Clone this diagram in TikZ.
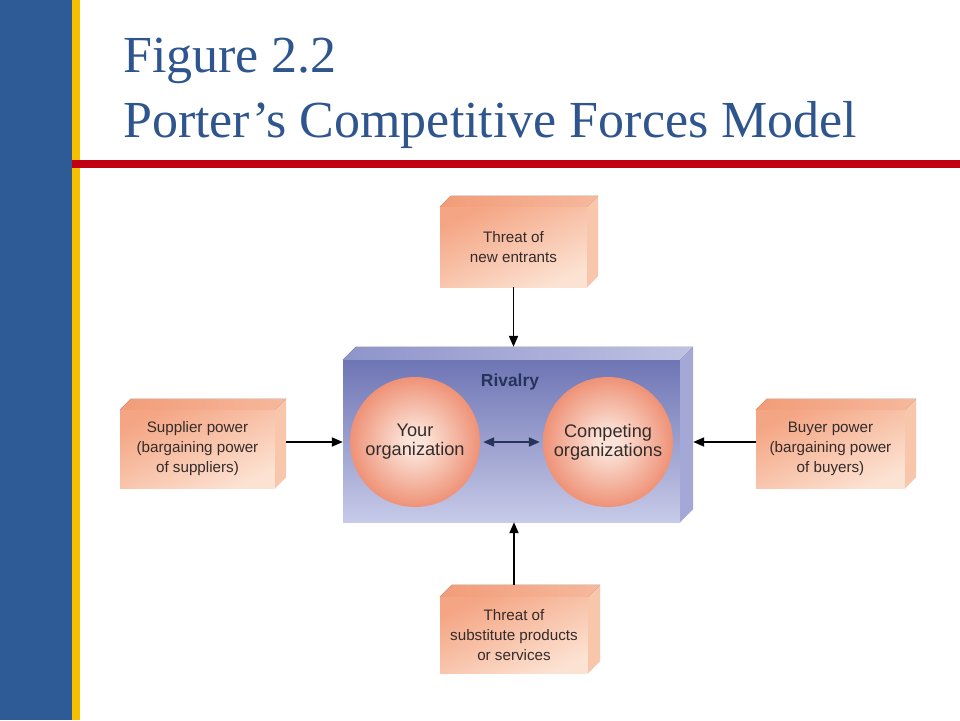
\documentclass[tikz,border=0pt]{standalone}
\usepackage{fontspec}
\setmainfont{Liberation Serif}
\newfontfamily\boxfont{Liberation Sans}
\usepackage{tikz}
\usetikzlibrary{
  arrows.meta,
  positioning,
  calc,
}
\definecolor{barblue}{HTML}{2E5A96}
\definecolor{headblue}{HTML}{2F558F}
\definecolor{baryellow}{HTML}{F6C000}
\definecolor{rulered}{HTML}{C00012}
\definecolor{ink}{HTML}{352B2A}
\definecolor{navy}{HTML}{26345A}
\definecolor{peachdark}{HTML}{F4A583}
\definecolor{peachlight}{HTML}{FCE2D2}
\definecolor{peachtop}{HTML}{F29C78}
\definecolor{peachside}{HTML}{F8C6AB}
\definecolor{slabdark}{HTML}{6E75B4}
\definecolor{slablight}{HTML}{C7CAE8}
\definecolor{slabtop}{HTML}{8F94CA}
\definecolor{slabside}{HTML}{A3A8D6}
\definecolor{orbcore}{HTML}{FBE3D8}
\definecolor{orbmid}{HTML}{EE8E72}
\definecolor{orbrim}{HTML}{DB5536}
\pgfdeclareradialshading{orb}{\pgfpoint{0bp}{0bp}}{%
  color(0bp)=(orbcore); color(4bp)=(orbcore); color(26bp)=(orbmid); color(50bp)=(orbrim)}
\tikzset{
  heading/.style={anchor=base west, inner sep=0pt, text=headblue,
    font=\fontsize{52}{65}\selectfont},
  brick/.style={
    top color=peachdark,
    bottom color=peachlight,
    shading angle=25,
    inner sep=0pt,
    align=center,
    text=ink,
    font=\boxfont\fontsize{15.2}{20}\selectfont,
  },
  slab/.style={
    top color=slabdark,
    bottom color=slablight,
    inner sep=0pt,
    minimum width=337,
    minimum height=162,
  },
  tag/.style={font=\boxfont\bfseries\fontsize{17.4}{20}\selectfont, text=navy},
  orb/.style={
    circle,
    shading=orb,
    minimum size=130,
    inner sep=0pt,
    align=center,
    text=ink,
    font=\boxfont\fontsize{18.2}{18.8}\selectfont,
  },
  force/.style={draw=black, line width=1.9pt, -{Triangle[length=11pt,width=9pt]}},
  duel/.style={draw=navy, line width=2pt, {Triangle[length=11pt,width=9pt]}-{Triangle[length=11pt,width=9pt]},
    shorten <=3pt, shorten >=3pt},
}

\begin{document}
\begin{tikzpicture}[x=1pt,y=-1pt]
  \useasboundingbox (0,0) rectangle (960,720);
  \fill[white] (0,0) rectangle (960,720);

  % slide frame
  \fill[barblue] (0,0) rectangle (72,720);
  \fill[baryellow] (72,0) rectangle (80,720);
  \fill[rulered] (72,160) rectangle (960,168);
  \node[heading] (fig) at (123,72) {Figure 2.2};
  \node[heading] (title) at (123,137) {Porter’s Competitive Forces Model};

  % rivalry slab
  \node[slab] (rivalry) at (511.5,441) {};
  \fill[left color=slabtop, right color=slabside!70]
    (rivalry.north west) -- ++(13,-13) -- ($(rivalry.north east)+(13,-13)$) -- (rivalry.north east) -- cycle;
  \fill[slabside]
    (rivalry.north east) -- ++(13,-13) -- ($(rivalry.south east)+(13,-13)$) -- (rivalry.south east) -- cycle;
  \node[tag] (rivaltag) at (510,382) {Rivalry};
  \node[orb] (you) at (415,442) {Your\\organization};
  \node[orb] (rivals) at (608,442) {Competing\\organizations};
  \draw[duel] (you) -- (rivals);

  % the four forces
  \node[brick, minimum width=147, minimum height=80] (entrants) at (513.5,247) {Threat of\\new entrants};
  \node[brick, minimum width=155, minimum height=78] (supplier) at (197.5,449) {Supplier power\\(bargaining power\\of suppliers)};
  \node[brick, minimum width=149, minimum height=78] (buyer) at (830.5,449) {Buyer power\\(bargaining power\\of buyers)};
  \node[brick, minimum width=148, minimum height=76] (substitutes) at (514,635) {Threat of\\substitute products\\or services};
  \foreach \n/\d in {entrants/11, supplier/11, buyer/11, substitutes/12} {
    \fill[left color=peachtop, right color=peachtop!60!peachlight]
      (\n.north west) -- ++(\d,-\d) -- ($(\n.north east)+(\d,-\d)$) -- (\n.north east) -- cycle;
    \fill[peachside]
      (\n.north east) -- ++(\d,-\d) -- ($(\n.south east)+(\d,-\d)$) -- (\n.south east) -- cycle;
  }

  \draw[force] (entrants.south) -- ($(entrants.south |- rivalry.north)+(0,-13)$);
  \draw[force] ($(supplier.east |- you)+(11,0)$) -- (rivalry.west |- you);
  \draw[force] (buyer.west |- you) -- ($(rivalry.east |- you)+(13,0)$);
  \draw[force] ($(substitutes.north)+(0,-12)$) -- (substitutes.north |- rivalry.south);
\end{tikzpicture}
\end{document}
